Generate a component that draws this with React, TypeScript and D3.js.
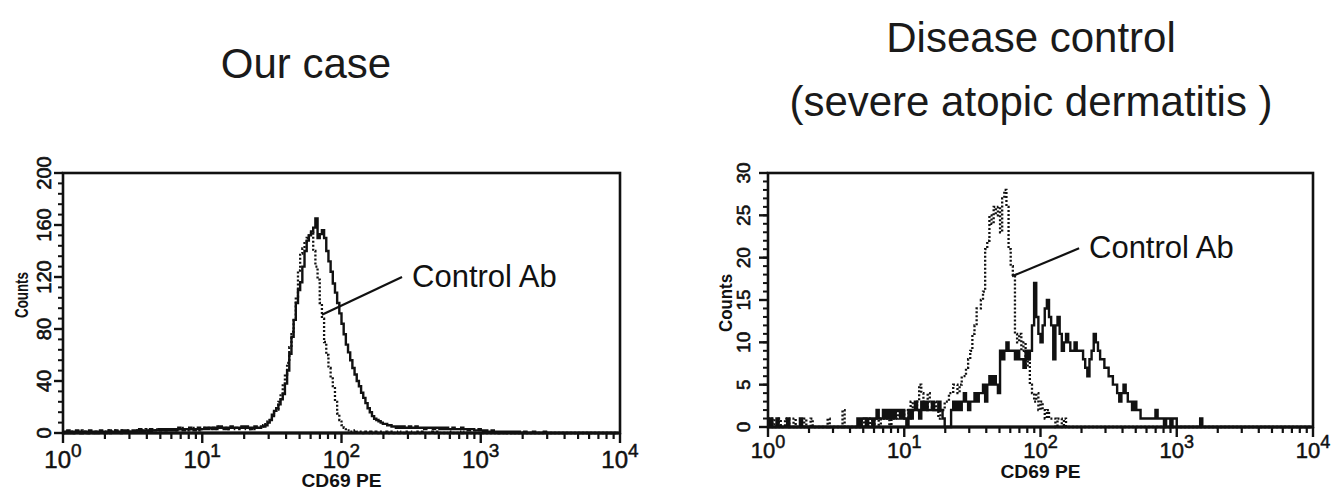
import React from "react";
import * as d3 from "d3";

// ---------- data ----------
const CHANNELS_PER_DECADE = 64; // 256 channels over 4 decades
const DECADE_EXPONENTS = [0, 1, 2, 3, 4];
const LEFT_COUNT_TICKS = [0, 40, 80, 120, 160, 200];
const RIGHT_COUNT_TICKS = [0, 5, 10, 15, 20, 25, 30];
const X_LABEL = "CD69 PE";
const Y_LABEL = "Counts";
const ANNOTATION = "Control Ab";
const TITLE_LEFT = ["Our case"];
const TITLE_RIGHT = ["Disease control", "(severe atopic dermatitis )"];

// Our case — CD69 PE (solid)
const ourCaseCD69 = [
  1,0,2,1,0,1,2,1,0,1,1,0,2,1,1,0,
  1,2,1,0,1,2,1,1,2,1,1,2,1,2,1,1,
  2,1,2,3,1,2,2,1,3,2,2,2,3,2,3,2,
  3,2,3,2,3,4,3,2,3,3,4,3,2,3,4,3,
  3,4,3,4,4,3,4,4,5,4,4,3,4,5,4,4,
  4,4,5,4,5,4,3,4,5,4,4,5,5,6,8,10,
  14,17,19,22,26,30,38,48,61,74,87,100,110,116,128,140,
  148,152,155,158,165,150,153,156,150,140,132,124,115,108,100,92,
  84,76,68,62,56,50,45,40,36,31,27,23,19,16,13,11,
  10,9,8,7,7,6,6,5,5,4,5,4,5,4,4,5,
  4,4,5,4,4,4,3,4,4,4,3,4,4,3,4,3,
  4,3,3,4,3,3,3,4,3,3,2,3,3,2,2,3,
  2,1,2,1,1,2,1,1,0,1,1,0,1,1,0,1,
  0,1,0,0,1,0,0,0,1,0,0,0,0,1,0,0,
  0,0,0,0,0,0,0,0,0,0,0,0,0,0,0,0,
  0,0,0,0,0,0,0,0,0,0,0,0,0,0,0,0,
];

// Our case — control antibody (dotted)
const ourCaseControl = [
  0,1,0,1,1,0,1,0,2,0,1,0,1,1,0,1,
  1,0,1,1,2,0,1,2,1,1,0,2,1,1,2,1,
  1,2,1,2,2,1,3,2,1,2,3,2,2,3,2,3,
  2,3,3,2,3,2,4,3,3,2,3,4,3,3,2,3,
  3,4,4,3,3,4,3,5,4,3,4,4,3,4,4,3,
  4,3,4,4,3,4,3,3,4,4,4,5,6,8,9,11,
  13,16,18,24,30,38,45,54,66,78,88,105,125,138,142,147,
  150,152,154,140,128,118,100,88,70,60,50,42,36,24,15,10,
  6,4,2,2,1,1,2,1,1,1,0,1,1,0,1,1,
  0,1,1,0,1,0,0,1,0,0,1,0,0,1,0,1,
  0,0,1,0,0,1,0,0,0,1,0,0,1,0,0,0,
  0,1,0,0,0,0,0,1,0,0,0,0,0,0,0,0,
  0,0,0,0,0,0,0,0,0,0,0,0,0,0,0,0,
  0,0,0,0,0,0,0,0,0,0,0,0,0,0,0,0,
  0,0,0,0,0,0,0,0,0,0,0,0,0,0,0,0,
  0,0,0,0,0,0,0,0,0,0,0,0,0,0,0,0,
];

// Disease control — CD69 PE (solid)
const diseaseCD69 = [
  0,1,0,0,1,0,0,0,0,1,0,0,0,0,0,1,
  0,0,0,0,0,0,0,0,0,0,0,0,0,0,0,0,
  0,0,0,0,0,0,0,0,0,0,1,0,1,1,0,1,
  1,0,1,2,1,1,2,1,2,1,2,1,2,2,1,2,
  1,0,2,1,2,3,2,1,3,2,3,2,2,3,2,2,
  3,2,1,0,0,0,2,3,2,3,2,3,4,3,2,3,
  3,4,3,4,4,5,3,5,6,5,6,5,4,9,8,9,
  10,9,9,9,8,9,8,8,7,9,8,9,12,17,13,11,
  10,12,14,15,13,12,8,12,13,11,9,10,11,10,9,9,
  10,9,9,9,8,7,6,8,9,11,10,9,8,8,7,7,
  6,6,5,5,4,3,4,5,4,3,3,2,3,2,2,1,
  1,1,1,1,1,1,2,1,1,1,0,1,1,0,1,1,
  0,0,0,0,0,0,0,0,0,0,0,1,0,0,0,0,
  0,0,0,0,0,0,0,0,0,0,0,0,0,0,0,0,
  0,0,0,0,0,0,0,0,0,0,0,0,0,0,0,0,
  0,0,0,0,0,0,0,0,0,0,0,0,0,0,0,0,
];

// Disease control — control antibody (dotted)
const diseaseControl = [
  1,0,1,0,0,1,0,0,1,1,0,0,1,0,0,0,
  0,1,0,0,1,0,0,0,0,0,0,0,1,0,0,0,
  0,0,0,2,0,0,0,0,0,0,0,0,1,0,1,0,
  1,0,1,1,0,1,1,2,1,0,1,2,1,2,2,1,
  2,2,1,3,2,2,3,5,4,3,2,4,3,2,3,2,
  1,2,2,3,3,4,4,5,5,4,5,6,6,7,8,9,
  11,12,14,14,15,16,21,22,25,24,26,25,26,23,27,28,
  26,21,19,18,11,10,11,9,10,7,8,5,4,3,4,2,
  3,2,1,2,1,1,1,0,1,1,0,1,0,0,0,0,
  0,0,0,0,0,0,0,0,0,0,0,0,0,0,0,0,
  0,0,0,0,0,0,0,0,0,0,0,0,0,0,0,0,
  0,0,0,0,0,0,0,0,0,0,0,0,0,0,0,0,
  0,0,0,0,0,0,0,0,0,0,0,0,0,0,0,0,
  0,0,0,0,0,0,0,0,0,0,0,0,0,0,0,0,
  0,0,0,0,0,0,0,0,0,0,0,0,0,0,0,0,
  0,0,0,0,0,0,0,0,0,0,0,0,0,0,0,0,
];

// annotation anchor points in data units: [intensity, count]
const leftAnnotation = { from: [72.4, 91], to: [272, 120], text: [321, 112] };
const rightAnnotation = { from: [61.8, 17.8], to: [192, 21.1], text: [227, 20] };

// ---------- drawing ----------
const FONT = '"Liberation Sans", Arial, Helvetica, sans-serif';
const INK = "#111";

type PanelProps = {
  x0: number; x1: number; yTop: number; yBottom: number;
  maxCount: number; countTicks: number[]; minorStep: number;
  solid: number[]; dotted: number[];
  annotation: { from: number[]; to: number[]; text: number[] };
  yLabelBaseX: number; yLabelSize: number;
  countsBaseX: number; countsCenterY: number; countsLen: number;
  xLabelBase: number; xLabelSize: number; supSize: number; supRaise: number;
  cdBase: number; cdSize: number;
};

function Panel(p: PanelProps) {
  const x = d3.scaleLog().domain([1, 1e4]).range([p.x0, p.x1]);
  const y = d3.scaleLinear().domain([0, p.maxCount]).range([p.yBottom, p.yTop]);
  const chan = (i: number) => Math.pow(10, i / CHANNELS_PER_DECADE);
  const line = d3
    .line<number>()
    .x((_, i) => x(chan(i)))
    .y((d) => y(d))
    .curve(d3.curveStepAfter);

  const minorX: number[] = [];
  for (let e = 0; e < 4; e++) for (let m = 2; m <= 9; m++) minorX.push(m * Math.pow(10, e));
  const minorY = d3.range(0, p.maxCount + 1e-9, p.minorStep);

  const a = p.annotation;
  return (
    <g>
      {/* histograms */}
      <path d={line(p.dotted) || ""} fill="none" stroke={INK} strokeWidth={2.3} strokeDasharray="2 2" />
      <path d={line(p.solid) || ""} fill="none" stroke={INK} strokeWidth={2.4} strokeLinejoin="miter" />

      {/* frame */}
      <rect x={p.x0} y={p.yTop} width={p.x1 - p.x0} height={p.yBottom - p.yTop} fill="none" stroke={INK} strokeWidth={2.6} />
      <line x1={p.x0 - 1} x2={p.x1 + 1} y1={p.yBottom} y2={p.yBottom} stroke={INK} strokeWidth={3.2} />

      {/* x ticks */}
      {minorX.map((v) => (
        <line key={"mx" + v} x1={x(v)} x2={x(v)} y1={p.yBottom} y2={p.yBottom + 6} stroke={INK} strokeWidth={2.2} />
      ))}
      {DECADE_EXPONENTS.map((e) => (
        <line key={"Mx" + e} x1={x(Math.pow(10, e))} x2={x(Math.pow(10, e))} y1={p.yBottom} y2={p.yBottom + 10} stroke={INK} strokeWidth={2.4} />
      ))}
      {DECADE_EXPONENTS.map((e) => (
        <text key={"lx" + e} x={x(Math.pow(10, e))} y={p.xLabelBase} textAnchor="middle" fontFamily={FONT} fill={INK} stroke={INK} strokeWidth={0.5}>
          <tspan fontSize={p.xLabelSize}>10</tspan>
          <tspan fontSize={p.supSize} dy={-p.supRaise}>{e}</tspan>
        </text>
      ))}
      <text x={x(100)} y={p.cdBase} textAnchor="middle" fontFamily={FONT} fontWeight="bold" fontSize={p.cdSize} fill={INK} textLength={80} lengthAdjust="spacingAndGlyphs">
        {X_LABEL}
      </text>

      {/* y ticks */}
      {minorY.map((v) => (
        <line key={"my" + v} x1={p.x0 - 5} x2={p.x0} y1={y(v)} y2={y(v)} stroke={INK} strokeWidth={2} />
      ))}
      {p.countTicks.map((v) => (
        <line key={"My" + v} x1={p.x0 - 9} x2={p.x0} y1={y(v)} y2={y(v)} stroke={INK} strokeWidth={2.4} />
      ))}
      {p.countTicks.map((v) => (
        <text key={"ly" + v} transform={`translate(${p.yLabelBaseX},${y(v)}) rotate(-90)`} textAnchor="middle" fontFamily={FONT} fontSize={p.yLabelSize} fill={INK} stroke={INK} strokeWidth={0.6}>
          {v}
        </text>
      ))}
      <text transform={`translate(${p.countsBaseX},${p.countsCenterY}) rotate(-90)`} textAnchor="middle" fontFamily={FONT} fontWeight="bold" fontSize={19} fill={INK} textLength={p.countsLen} lengthAdjust="spacingAndGlyphs">
        {Y_LABEL}
      </text>

      {/* annotation */}
      <line x1={x(a.from[0])} y1={y(a.from[1])} x2={x(a.to[0])} y2={y(a.to[1])} stroke={INK} strokeWidth={2.2} />
      <text x={x(a.text[0])} y={y(a.text[1])} fontFamily={FONT} fontSize={31} fill={INK}>
        {ANNOTATION}
      </text>
    </g>
  );
}

export default function App() {
  return (
    <svg width={1341} height={490} style={{ position: "absolute", left: 0, top: 0, background: "#fff" }}>
      <rect width={1341} height={490} fill="#fff" />
      {TITLE_LEFT.map((t, i) => (
        <text key={t} x={306} y={78 + i * 64} textAnchor="middle" fontFamily={FONT} fontSize={42} fill="#1a1a1a">{t}</text>
      ))}
      {TITLE_RIGHT.map((t, i) => (
        <text key={t} x={1031} y={52 + i * 64} textAnchor="middle" fontFamily={FONT} fontSize={42} fill="#1a1a1a">{t}</text>
      ))}
      <Panel
        x0={63} x1={620} yTop={173} yBottom={433}
        maxCount={200} countTicks={LEFT_COUNT_TICKS} minorStep={8}
        solid={ourCaseCD69} dotted={ourCaseControl} annotation={leftAnnotation}
        yLabelBaseX={51} yLabelSize={20}
        countsBaseX={28} countsCenterY={295} countsLen={46}
        xLabelBase={468} xLabelSize={24} supSize={19} supRaise={11}
        cdBase={487} cdSize={19}
      />
      <Panel
        x0={768} x1={1313} yTop={173} yBottom={427}
        maxCount={30} countTicks={RIGHT_COUNT_TICKS} minorStep={1}
        solid={diseaseCD69} dotted={diseaseControl} annotation={rightAnnotation}
        yLabelBaseX={750} yLabelSize={19}
        countsBaseX={732} countsCenterY={303} countsLen={58}
        xLabelBase={458} xLabelSize={22} supSize={18} supRaise={10}
        cdBase={478} cdSize={19}
      />
    </svg>
  );
}
